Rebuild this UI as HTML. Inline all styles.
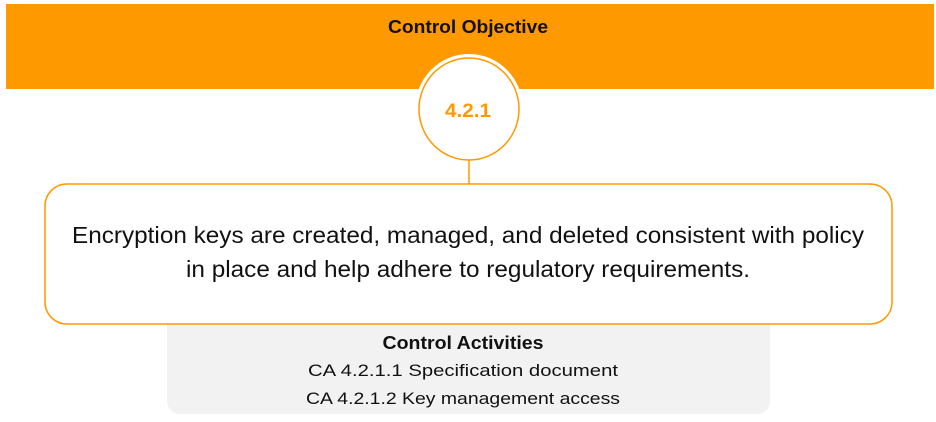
<!DOCTYPE html>
<html><head><style>html,body{margin:0;padding:0;background:#fff;}svg{display:block}</style></head>
<body>
<svg width="936" height="422" viewBox="0 0 936 422" xmlns="http://www.w3.org/2000/svg" font-family="Liberation Sans, sans-serif">
<rect x="0" y="0" width="936" height="422" fill="#fff"/>
<rect x="6" y="4" width="928" height="85" fill="#FF9900"/>
<text x="468" y="33" text-anchor="middle" font-size="18" font-weight="bold" fill="#111" textLength="160" lengthAdjust="spacingAndGlyphs">Control Objective</text>
<rect x="167" y="298" width="603" height="116" rx="13" fill="#F2F2F2"/>
<ellipse cx="469" cy="109" rx="54" ry="55" fill="#fff"/>
<ellipse cx="469" cy="109" rx="50" ry="51" fill="#fff" stroke="#FF9900" stroke-width="1.5"/>
<text x="468" y="117" text-anchor="middle" font-size="19" font-weight="bold" fill="#FF9900" textLength="46" lengthAdjust="spacingAndGlyphs">4.2.1</text>
<line x1="469" y1="160" x2="469" y2="184" stroke="#FF9900" stroke-width="1.5"/>
<rect x="45" y="184" width="847" height="140" rx="22" fill="#fff" stroke="#FF9900" stroke-width="1.5"/>
<text x="468" y="243" text-anchor="middle" font-size="23" fill="#111" textLength="792" lengthAdjust="spacingAndGlyphs">Encryption keys are created, managed, and deleted consistent with policy</text>
<text x="468" y="277" text-anchor="middle" font-size="23" fill="#111" textLength="564" lengthAdjust="spacingAndGlyphs">in place and help adhere to regulatory requirements.</text>
<text x="463" y="349" text-anchor="middle" font-size="18" font-weight="bold" fill="#111" textLength="161" lengthAdjust="spacingAndGlyphs">Control Activities</text>
<text x="463" y="376" text-anchor="middle" font-size="17" fill="#111" textLength="310" lengthAdjust="spacingAndGlyphs">CA 4.2.1.1 Specification document</text>
<text x="463" y="404" text-anchor="middle" font-size="17" fill="#111" textLength="314" lengthAdjust="spacingAndGlyphs">CA 4.2.1.2 Key management access</text>
</svg>
</body></html>
